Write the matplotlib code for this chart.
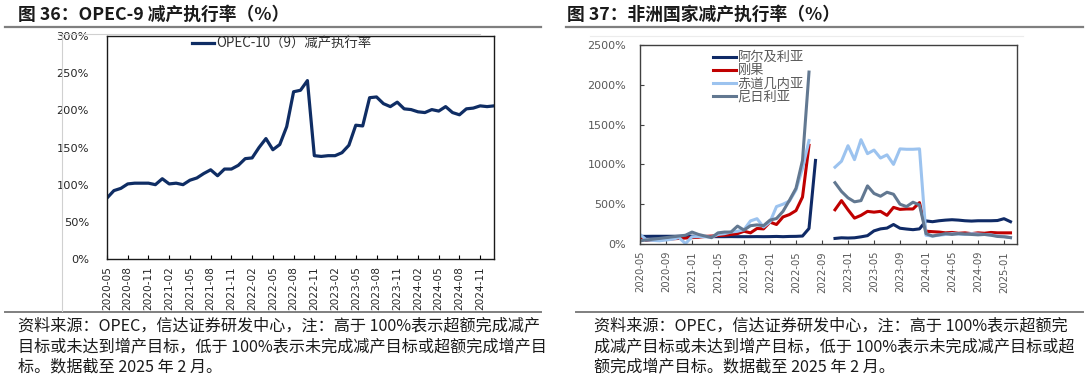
import numpy as np
import matplotlib
matplotlib.use("Agg")
import matplotlib.pyplot as plt
from matplotlib.lines import Line2D

plt.rcParams['font.family'] = ['Noto Sans CJK SC', 'DejaVu Sans']

# ---------------- data ----------------
# Left: OPEC-10(9) compliance, monthly 2020-05 .. 2025-01
left_months = [f"{y}-{m:02d}" for y in range(2020, 2026) for m in range(1, 13)]
left_months = left_months[left_months.index("2020-05"):left_months.index("2025-01") + 1]
opec_rate = [82, 92, 95, 101, 102, 102, 102, 100, 108, 101, 102, 100,
             106, 109, 115, 120, 112, 121, 121, 126, 135, 136, 150, 162,
             147, 154, 178, 225, 227, 240, 139, 138, 139, 139, 143, 153,
             180, 179, 217, 218, 209, 205, 211, 202, 201, 198, 197, 201,
             199, 205, 197, 194, 202, 203, 206, 205, 206]
left_tick_labels = left_months[::3]

# Right: African countries, monthly 2020-05 .. 2025-02 (gap = no data)
right_months = [f"{y}-{m:02d}" for y in range(2020, 2026) for m in range(1, 13)]
right_months = right_months[right_months.index("2020-05"):right_months.index("2025-02") + 1]
nan = np.nan
algeria = [96, 96, 97, 97, 97, 97, 97, 97, 98, 97, 95, 93, 92, 92, 93, 92,
           92, 92, 93, 92, 93, 95, 92, 95, 96, 100, 195, 1050, nan, nan,
           70, 78, 75, 78, 90, 105, 165, 190, 200, 245, 198, 188, 180, 190,
           290, 280, 292, 300, 305, 300, 292, 288, 292, 292, 292, 295, 318, 280]
congo = [90, 45, 50, 55, 60, 65, 70, 75, 80, 85, 95, 100, 105, 110, 120, 130,
         160, 140, 195, 190, 275, 245, 340, 370, 420, 590, 1240, nan, nan, nan,
         430, 545, 430, 325, 360, 410, 400, 410, 360, 460, 435, 440, 440, 520,
         160, 155, 150, 140, 145, 135, 140, 130, 140, 135, 145, 140, 140, 140]
eq_guinea = [120, 50, 45, 40, 50, 60, 80, 5, 90, 95, 90, 85, 120, 130, 150, 160,
             180, 290, 318, 214, 277, 470, 500, 540, 680, 950, 1300, nan, nan, nan,
             965, 1040, 1235, 1060, 1310, 1135, 1180, 1080, 1120, 1000, 1195, 1190, 1190, 1195,
             110, 100, 110, 120, 130, 125, 120, 130, 125, 120, 115, 100, 95, 80]
nigeria = [40, 50, 60, 70, 80, 90, 100, 110, 150, 120, 100, 80, 140, 150, 150, 225,
           175, 230, 240, 230, 300, 320, 410, 550, 700, 1050, 2160, nan, nan, nan,
           770, 660, 580, 530, 545, 730, 635, 600, 650, 625, 500, 470, 525, 490,
           130, 100, 115, 130, 120, 130, 125, 120, 115, 120, 110, 95, 90, 80]
right_series = {"阿尔及利亚": algeria, "刚果": congo, "赤道几内亚": eq_guinea, "尼日利亚": nigeria}
right_colors = ["#0f2a66", "#c00000", "#9cc3ef", "#627891"]
right_tick_labels = right_months[::4]

left_title = "图 36：OPEC-9 减产执行率（%）"
right_title = "图 37：非洲国家减产执行率（%）"
left_note = ["资料来源：OPEC，信达证券研发中心，注：高于 100%表示超额完成减产",
             "目标或未达到增产目标，低于 100%表示未完成减产目标或超额完成增产目",
             "标。数据截至 2025 年 2 月。"]
right_note = ["资料来源：OPEC，信达证券研发中心，注：高于 100%表示超额完",
              "成减产目标或未达到增产目标，低于 100%表示未完成减产目标或超",
              "额完成增产目标。数据截至 2025 年 2 月。"]

# ---------------- figure ----------------
W, H = 1088, 378
fig = plt.figure(figsize=(W / 100, H / 100), dpi=100)

def px_axes(l, t, r, b):
    return fig.add_axes([l / W, 1 - b / H, (r - l) / W, (b - t) / H])

def hline(x0, x1, y, color, lw):
    fig.add_artist(Line2D([x0 / W, x1 / W], [1 - y / H, 1 - y / H], color=color, lw=lw,
                          transform=fig.transFigure))

def vline(x, y0, y1, color, lw):
    fig.add_artist(Line2D([x / W, x / W], [1 - y0 / H, 1 - y1 / H], color=color, lw=lw,
                          transform=fig.transFigure))

# titles
fig.text(18 / W, 1 - 15 / H, left_title, fontsize=12.8, fontweight='bold', va='center', ha='left',
         color='#1a1a1a')
fig.text(567 / W, 1 - 15 / H, right_title, fontsize=12.8, fontweight='bold', va='center', ha='left',
         color='#1a1a1a')
hline(5, 541, 26.5, '#7f7f7f', 1.6)
hline(566, 1083, 26.5, '#7f7f7f', 1.6)
hline(5, 541, 312, '#7f7f7f', 1.4)
hline(576, 1083, 312, '#7f7f7f', 1.4)
# faint chart-area borders
vline(62, 34, 311, '#d0d0d0', 0.8)
hline(58, 480, 34, '#d0d0d0', 0.8)
hline(590, 1023, 36, '#ececec', 0.8)

# footnotes
for i, line in enumerate(left_note):
    fig.text(18 / W, 1 - (326 + i * 20.5) / H, line, fontsize=11.6, style='italic', va='center',
             ha='left', color='#1a1a1a')
for i, line in enumerate(right_note):
    fig.text(594 / W, 1 - (326 + i * 20.5) / H, line, fontsize=11.6, style='italic', va='center',
             ha='left', color='#1a1a1a')

# ---------------- left chart ----------------
axL = px_axes(107, 36, 494, 259)
xl = np.arange(len(opec_rate))
axL.plot(xl, opec_rate, color='#0f2d64', lw=2.3, label="OPEC-10（9）减产执行率")
axL.set_xlim(0, len(opec_rate) - 1)
axL.set_ylim(0, 300)
axL.set_yticks(np.arange(0, 301, 50))
axL.set_yticklabels([f"{v}%" for v in range(0, 301, 50)], fontsize=8.2, family='DejaVu Sans',
                    color='#262626')
axL.set_xticks(np.arange(0, len(opec_rate), 3))
axL.set_xticklabels(left_tick_labels, rotation=90, fontsize=7.6, family='DejaVu Sans',
                    color='#262626')
axL.tick_params(axis='x', direction='in', length=3, width=0.8, pad=5)
axL.tick_params(axis='y', length=0, pad=13)
for s in axL.spines.values():
    s.set_color('#1a1a1a')
    s.set_linewidth(1.0)
axL.legend(loc='upper left', bbox_to_anchor=(0.205, 1.02), frameon=False, fontsize=9.6,
           handlelength=1.7, handletextpad=0.15, borderaxespad=0, labelcolor='#333333')

# ---------------- right chart ----------------
axR = px_axes(640, 45, 1017, 244)
xr = np.arange(len(right_months))
for (name, vals), c in zip(right_series.items(), right_colors):
    axR.plot(xr, vals, color=c, lw=2.2, label=name)
axR.set_xlim(0, 58)
axR.set_ylim(0, 2500)
axR.set_yticks(np.arange(0, 2501, 500))
axR.set_yticklabels([f"{v}%" for v in range(0, 2501, 500)], fontsize=8, family='DejaVu Sans',
                    color='#595959')
axR.set_xticks(np.arange(0, len(right_months), 4))
axR.set_xticklabels(right_tick_labels, rotation=90, fontsize=7.2, family='DejaVu Sans',
                    color='#595959')
axR.tick_params(axis='x', direction='in', length=3, width=0.8, pad=5, color='#404040')
axR.tick_params(axis='y', direction='in', length=3, width=0.8, pad=10, color='#404040')
for s in axR.spines.values():
    s.set_color('#404040')
    s.set_linewidth(1.0)
axR.legend(loc='upper left', bbox_to_anchor=(0.18, 0.995), frameon=False, fontsize=9.5,
           handlelength=1.75, handletextpad=0.1, labelspacing=0.0, borderaxespad=0,
           labelcolor='#595959')

fig.savefig("out.png", dpi=100)
